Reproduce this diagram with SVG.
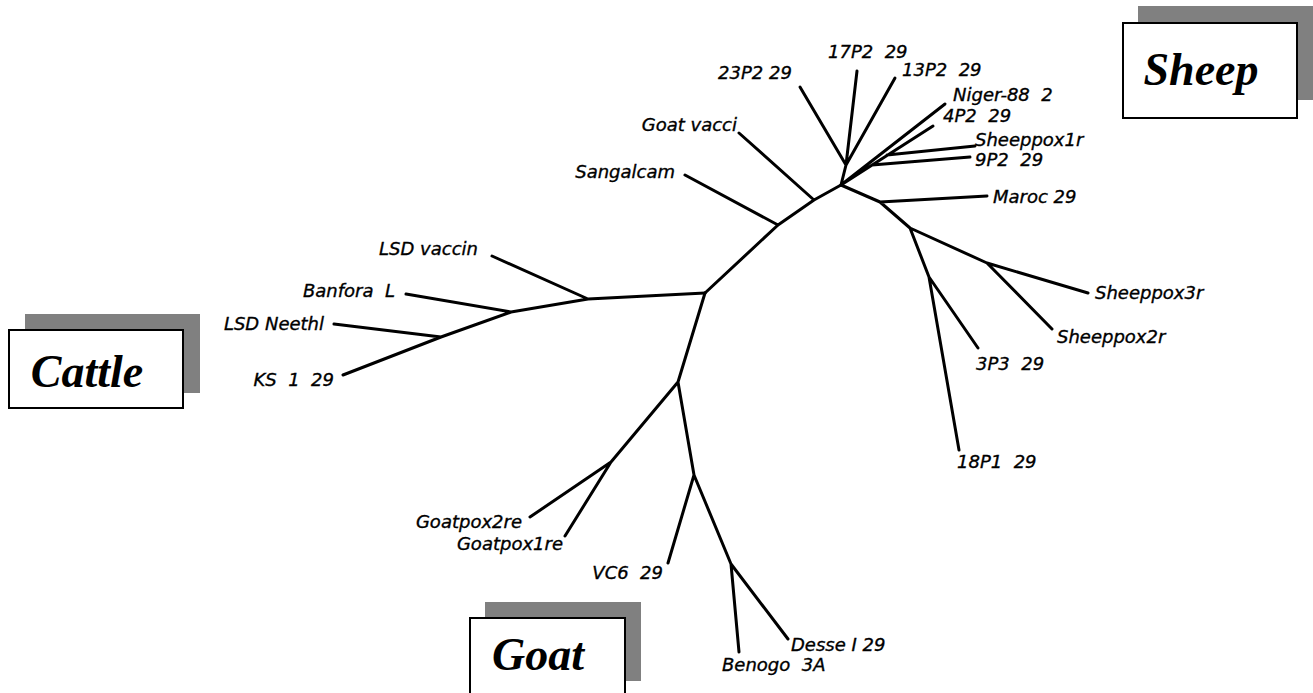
<svg xmlns="http://www.w3.org/2000/svg" width="1313" height="693" viewBox="0 0 1313 693">
<style>
.br{stroke:#000;stroke-width:3;stroke-linecap:round;fill:none}
.lb{font-family:"DejaVu Sans",sans-serif;font-style:italic;font-size:18px;fill:#000;stroke:#000;stroke-width:0.35;white-space:pre}
.e{text-anchor:end}
.sh{fill:#808080}
.bx{fill:#fff;stroke:#000;stroke-width:2}
.big{font-family:"Liberation Serif","Times New Roman",serif;font-style:italic;font-weight:bold;font-size:46px;text-anchor:middle;fill:#000}
</style>
<rect width="1313" height="693" fill="#fff"/>
<g id="connectors" class="br">
<path d="M705 293L588 299M588 299L492 256M588 299L511 312M511 312L406 294M511 312L441 337M441 337L334 324M441 337L343 375"/>
<path d="M705 293L678 382M678 382L611 462M611 462L530 517M611 462L565 536M678 382L694 475M694 475L668 563M694 475L731 564M731 564L739 652M731 564L788 639"/>
<path d="M705 293L778 225M778 225L685 175M778 225L814 200M814 200L739 133M814 200L841 185"/>
<path d="M841 185L846 165M846 165L800 87M846 165L857 71M846 165L895 78M841 185L945 104M841 185L933 126M887 155L975 146M872 165L970 157"/>
<path d="M841 185L880 202M880 202L987 196M880 202L910 228M910 228L987 263M987 263L1088 293M987 263L1052 329M910 228L929 277M929 277L978 348M929 277L959 450"/>
</g>
<g id="leaf-17P2"><text class="lb" x="828" y="58" xml:space="preserve">17P2  29</text></g>
<g id="leaf-23P2"><text class="lb" x="718" y="79">23P2 29</text></g>
<g id="leaf-13P2"><text class="lb" x="902" y="76" xml:space="preserve">13P2  29</text></g>
<g id="leaf-Niger"><text class="lb" x="953" y="101" xml:space="preserve">Niger-88  2</text></g>
<g id="leaf-4P2"><text class="lb" x="943" y="122" xml:space="preserve">4P2  29</text></g>
<g id="leaf-Sheeppox1r"><text class="lb" x="975" y="146">Sheeppox1r</text></g>
<g id="leaf-9P2"><text class="lb" x="975" y="166" xml:space="preserve">9P2  29</text></g>
<g id="leaf-GoatVacci"><text class="lb e" x="737" y="131">Goat vacci</text></g>
<g id="leaf-Sangalcam"><text class="lb e" x="675" y="178">Sangalcam</text></g>
<g id="leaf-Maroc"><text class="lb" x="993" y="203">Maroc 29</text></g>
<g id="leaf-Sheeppox3r"><text class="lb" x="1095" y="299">Sheeppox3r</text></g>
<g id="leaf-Sheeppox2r"><text class="lb" x="1057" y="343">Sheeppox2r</text></g>
<g id="leaf-3P3"><text class="lb" x="976" y="370" xml:space="preserve">3P3  29</text></g>
<g id="leaf-18P1"><text class="lb" x="957" y="468" xml:space="preserve">18P1  29</text></g>
<g id="leaf-LSDvaccin"><text class="lb e" x="478" y="255">LSD vaccin</text></g>
<g id="leaf-Banfora"><text class="lb e" x="395" y="297" xml:space="preserve">Banfora  L</text></g>
<g id="leaf-LSDNeethl"><text class="lb e" x="324" y="330">LSD Neethl</text></g>
<g id="leaf-KS"><text class="lb e" x="334" y="386" xml:space="preserve">KS  1  29</text></g>
<g id="leaf-Goatpox2re"><text class="lb e" x="522" y="528">Goatpox2re</text></g>
<g id="leaf-Goatpox1re"><text class="lb e" x="563" y="550">Goatpox1re</text></g>
<g id="leaf-VC6"><text class="lb e" x="663" y="579" xml:space="preserve">VC6  29</text></g>
<g id="leaf-Desse"><text class="lb" x="791" y="651">Desse I 29</text></g>
<g id="leaf-Benogo"><text class="lb" x="722" y="671" xml:space="preserve">Benogo  3A</text></g>
<g id="box-sheep"><rect class="sh" x="1138" y="6" width="175" height="94"/><rect class="bx" x="1123" y="23" width="174" height="95"/><text class="big" x="1201" y="85">Sheep</text></g>
<g id="box-cattle"><rect class="sh" x="25" y="314" width="175" height="79"/><rect class="bx" x="9" y="330" width="174" height="78"/><text class="big" x="87" y="387">Cattle</text></g>
<g id="box-goat"><rect class="sh" x="485" y="602" width="156" height="79"/><rect class="bx" x="470" y="618" width="155" height="90"/><text class="big" x="538" y="670">Goat</text></g>
</svg>
